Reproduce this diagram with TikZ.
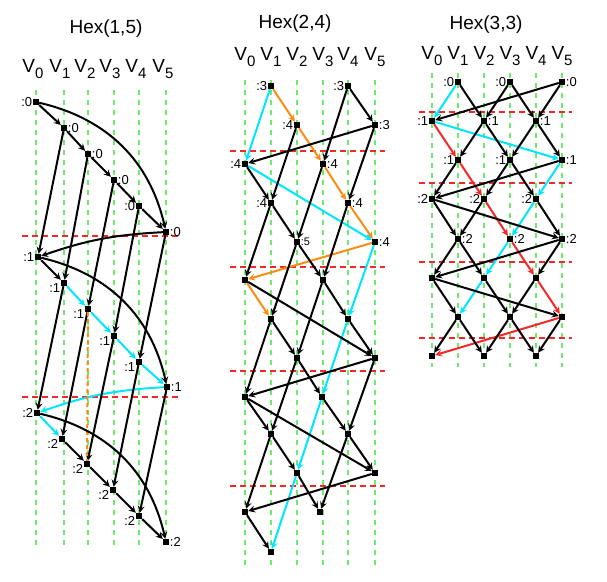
\documentclass[tikz,border=0pt]{standalone}
\usepackage{fontspec}
\setmainfont{Liberation Sans}
\usetikzlibrary{arrows}

\definecolor{gridgreen}{RGB}{110,235,110}
\definecolor{cutred}{RGB}{240,40,40}
\definecolor{pathcyan}{RGB}{0,230,250}
\definecolor{pathorange}{RGB}{250,140,20}
\definecolor{pathred}{RGB}{245,40,40}

\newcommand{\vcol}[1]{V\raisebox{-6pt}{\fontsize{15}{15}\selectfont #1}}

\begin{document}
\begin{tikzpicture}[
    x=1pt, y=-1pt,
    vtx/.style={fill=black, inner sep=0pt, minimum size=6pt},
    lbl/.style={font=\fontsize{13}{13}\selectfont, inner sep=0.5pt},
    title/.style={font=\fontsize{19}{21}\selectfont},
    head/.style={font=\fontsize{19}{21}\selectfont, inner sep=0pt},
    grid/.style={gridgreen, line width=2pt, dash pattern=on 5pt off 5pt},
    cut/.style={cutred, line width=1.6pt, dash pattern=on 6pt off 4pt},
    arrow/.style={->, >=stealth, line width=2pt},
    cyanarrow/.style={arrow, pathcyan},
    orangearrow/.style={arrow, pathorange},
    redarrow/.style={arrow, pathred},
]
\useasboundingbox (0,0) rectangle (607,581);

% Grid lines
\foreach \x in {36,64,88,114,139,166} \draw[grid] (\x,90) -- (\x,548);
\foreach \x in {245,271,297,323,348,375} \draw[grid] (\x,80) -- (\x,565);
\foreach \x in {432,458,484,510,536,562} \draw[grid] (\x,73) -- (\x,367);

% Cuts
\draw[cut] (22,236) -- (180,236);
\draw[cut] (22,397) -- (180,397);
\draw[cut] (230,151) -- (385,151);
\draw[cut] (230,267) -- (385,267);
\draw[cut] (230,371) -- (385,371);
\draw[cut] (230,486) -- (385,486);
\draw[cut] (419,112) -- (572,112);
\draw[cut] (419,183) -- (572,183);
\draw[cut] (419,262) -- (572,262);
\draw[cut] (419,338) -- (572,338);

%%%%%%%%%% Hex(1,5)
\node[title] (t1) at (106,29) {Hex(1,5)};
\node[head] (h10) at (33,69) {\vcol{0}};
\node[head] (h11) at (60,69) {\vcol{1}};
\node[head] (h12) at (85,69) {\vcol{2}};
\node[head] (h13) at (110,69) {\vcol{3}};
\node[head] (h14) at (136,69) {\vcol{4}};
\node[head] (h15) at (163,69) {\vcol{5}};

% Level 0
\node[vtx, label={[lbl]left:{:0}}] (a00) at (36,102) {};
\node[vtx, label={[lbl]right:{:0}}] (a01) at (64,128) {};
\node[vtx, label={[lbl]right:{:0}}] (a02) at (88,154) {};
\node[vtx, label={[lbl]right:{:0}}] (a03) at (114,180) {};
\node[vtx, label={[lbl]left:{:0}}] (a04) at (139,206) {};
\node[vtx, label={[lbl]right:{:0}}] (a05) at (166,232) {};

% Level 1
\node[vtx, label={[lbl]left:{:1}}] (a10) at (38,257) {};
\node[vtx, label={[lbl,yshift=-5pt]left:{:1}}] (a11) at (64,283) {};
\node[vtx, label={[lbl,yshift=-5pt]left:{:1}}] (a12) at (88,309) {};
\node[vtx, label={[lbl,yshift=-5pt]left:{:1}}] (a13) at (114,336) {};
\node[vtx, label={[lbl,yshift=-5pt]left:{:1}}] (a14) at (139,362) {};
\node[vtx, label={[lbl]right:{:1}}] (a15) at (167,387) {};

% Level 2
\node[vtx, label={[lbl]left:{:2}}] (a20) at (37,413) {};
\node[vtx, label={[lbl,yshift=-5pt]left:{:2}}] (a21) at (62,439) {};
\node[vtx, label={[lbl,yshift=-5pt]left:{:2}}] (a22) at (87,464) {};
\node[vtx, label={[lbl,yshift=-5pt]left:{:2}}] (a23) at (113,490) {};
\node[vtx, label={[lbl,yshift=-5pt]left:{:2}}] (a24) at (139,516) {};
\node[vtx, label={[lbl]right:{:2}}] (a25) at (166,542) {};

% Arrows
\draw[arrow] (a00) -- (a01);
\draw[arrow] (a01) -- (a02);
\draw[arrow] (a02) -- (a03);
\draw[arrow] (a03) -- (a04);
\draw[arrow] (a04) -- (a05);
\draw[arrow] (a00) to[bend left=32] (a05);
\draw[arrow] (a05) to[bend right=8] (a10);
\draw[arrow] (a01) -- (a10);
\draw[arrow] (a02) -- (a11);
\draw[arrow] (a03) -- (a12);
\draw[arrow] (a04) -- (a13);
\draw[arrow] (a05) -- (a14);
\draw[arrow] (a10) -- (a11);
\draw[cyanarrow] (a11) -- (a12);
\draw[cyanarrow] (a12) -- (a13);
\draw[cyanarrow] (a13) -- (a14);
\draw[cyanarrow] (a14) -- (a15);
\draw[arrow] (a10) to[bend left=32] (a15);
\draw[cyanarrow] (a15) to[bend right=8] (a20);
\draw[arrow] (a11) -- (a20);
\draw[arrow] (a12) -- (a21);
\draw[arrow] (a13) -- (a22);
\draw[arrow] (a14) -- (a23);
\draw[arrow] (a15) -- (a24);
\draw[pathorange, line width=2pt, dash pattern=on 4pt off 3pt] (a12) -- (a22);
\draw[cyanarrow] (a20) -- (a21);
\draw[arrow] (a21) -- (a22);
\draw[arrow] (a22) -- (a23);
\draw[arrow] (a23) -- (a24);
\draw[arrow] (a24) -- (a25);
\draw[arrow] (a20) to[bend left=32] (a25);

%%%%%%%%%% Hex(2,4)
\node[title] (t2) at (295,24) {Hex(2,4)};
\node[head] (h20) at (245,57) {\vcol{0}};
\node[head] (h21) at (271,57) {\vcol{1}};
\node[head] (h22) at (297,57) {\vcol{2}};
\node[head] (h23) at (323,57) {\vcol{3}};
\node[head] (h24) at (348,57) {\vcol{4}};
\node[head] (h25) at (375,57) {\vcol{5}};

\node[vtx, label={[lbl]left:{:3}}] (b0-1) at (271,86) {};
\node[vtx, label={[lbl]left:{:3}}] (b0-4) at (348,86) {};
\node[vtx, label={[lbl]left:{:4}}] (b1-2) at (297,125) {};
\node[vtx, label={[lbl]right:{:3}}] (b1-5) at (375,125) {};
\node[vtx, label={[lbl]left:{:4}}] (b2-0) at (245,164) {};
\node[vtx, label={[lbl]right:{:4}}] (b2-3) at (323,164) {};
\node[vtx, label={[lbl]left:{:4}}] (b3-1) at (271,203) {};
\node[vtx, label={[lbl]right:{:4}}] (b3-4) at (348,203) {};
\node[vtx, label={[lbl,font=\fontsize{11}{11}\selectfont]right:{:5}}] (b4-2) at (297,242) {};
\node[vtx, label={[lbl]right:{:4}}] (b4-5) at (375,242) {};
\node[vtx] (b5-0) at (245,280) {};
\node[vtx] (b5-3) at (323,280) {};
\node[vtx] (b6-1) at (271,319) {};
\node[vtx] (b6-4) at (348,319) {};
\node[vtx] (b7-2) at (297,358) {};
\node[vtx] (b7-5) at (375,358) {};
\node[vtx] (b8-0) at (245,397) {};
\node[vtx] (b8-3) at (322,397) {};
\node[vtx] (b9-1) at (271,434) {};
\node[vtx] (b9-4) at (348,434) {};
\node[vtx] (b10-2) at (297,473) {};
\node[vtx] (b10-5) at (375,473) {};
\node[vtx] (b11-0) at (245,512) {};
\node[vtx] (b11-3) at (320,512) {};
\node[vtx] (b12-1) at (271,552) {};

% Arrows
\draw[orangearrow] (b0-1) -- (b1-2);
\draw[orangearrow] (b1-2) -- (b2-3);
\draw[orangearrow] (b2-3) -- (b3-4);
\draw[orangearrow] (b3-4) -- (b4-5);
\draw[orangearrow] (b4-5) -- (b5-0);
\draw[orangearrow] (b5-0) -- (b6-1);
\draw[cyanarrow] (b0-1) -- (b2-0);
\draw[cyanarrow] (b2-0) -- (b4-5);
\draw[cyanarrow] (b4-5) -- (b6-4);
\draw[cyanarrow] (b6-4) -- (b8-3);
\draw[cyanarrow] (b8-3) -- (b10-2);
\draw[cyanarrow] (b10-2) -- (b12-1);
\draw[arrow] (b0-4) -- (b1-5);
\draw[arrow] (b0-4) -- (b2-3);
\draw[arrow] (b1-2) -- (b3-1);
\draw[arrow] (b1-5) -- (b2-0);
\draw[arrow] (b1-5) -- (b3-4);
\draw[arrow] (b2-0) -- (b3-1);
\draw[arrow] (b2-3) -- (b4-2);
\draw[arrow] (b3-1) -- (b4-2);
\draw[arrow] (b3-1) -- (b5-0);
\draw[arrow] (b3-4) -- (b5-3);
\draw[arrow] (b4-2) -- (b5-3);
\draw[arrow] (b4-2) -- (b6-1);
\draw[arrow] (b5-0) -- (b7-5);
\draw[arrow] (b5-3) -- (b6-4);
\draw[arrow] (b5-3) -- (b7-2);
\draw[arrow] (b6-1) -- (b7-2);
\draw[arrow] (b6-1) -- (b8-0);
\draw[arrow] (b6-4) -- (b7-5);
\draw[arrow] (b7-2) -- (b8-3);
\draw[arrow] (b7-2) -- (b9-1);
\draw[arrow] (b7-5) -- (b8-0);
\draw[arrow] (b7-5) -- (b9-4);
\draw[arrow] (b8-0) -- (b9-1);
\draw[arrow] (b8-0) -- (b10-5);
\draw[arrow] (b8-3) -- (b9-4);
\draw[arrow] (b9-1) -- (b10-2);
\draw[arrow] (b9-1) -- (b11-0);
\draw[arrow] (b9-4) -- (b10-5);
\draw[arrow] (b9-4) -- (b11-3);
\draw[arrow] (b10-2) -- (b11-3);
\draw[arrow] (b10-5) -- (b11-0);
\draw[arrow] (b11-0) -- (b12-1);

%%%%%%%%%% Hex(3,3)
\node[title] (t3) at (486,25) {Hex(3,3)};
\node[head] (h30) at (432,56) {\vcol{0}};
\node[head] (h31) at (458,56) {\vcol{1}};
\node[head] (h32) at (484,56) {\vcol{2}};
\node[head] (h33) at (510,56) {\vcol{3}};
\node[head] (h34) at (536,56) {\vcol{4}};
\node[head] (h35) at (562,56) {\vcol{5}};

\node[vtx, label={[lbl]left:{:0}}] (c0-1) at (458,82) {};
\node[vtx, label={[lbl]left:{:0}}] (c0-3) at (510,82) {};
\node[vtx, label={[lbl]right:{:0}}] (c0-5) at (562,82) {};
\node[vtx, label={[lbl]left:{:1}}] (c1-0) at (432,121) {};
\node[vtx, label={[lbl]right:{:1}}] (c1-2) at (484,121) {};
\node[vtx, label={[lbl]right:{:1}}] (c1-4) at (536,121) {};
\node[vtx, label={[lbl]left:{:1}}] (c2-1) at (458,160) {};
\node[vtx, label={[lbl]left:{:1}}] (c2-3) at (510,160) {};
\node[vtx, label={[lbl]right:{:1}}] (c2-5) at (562,160) {};
\node[vtx, label={[lbl]left:{:2}}] (c3-0) at (432,199) {};
\node[vtx, label={[lbl]left:{:2}}] (c3-2) at (484,199) {};
\node[vtx, label={[lbl]left:{:2}}] (c3-4) at (536,199) {};
\node[vtx, label={[lbl]right:{:2}}] (c4-1) at (458,239) {};
\node[vtx, label={[lbl]right:{:2}}] (c4-3) at (510,239) {};
\node[vtx, label={[lbl]right:{:2}}] (c4-5) at (562,239) {};
\node[vtx] (c5-0) at (432,278) {};
\node[vtx] (c5-2) at (484,278) {};
\node[vtx] (c5-4) at (536,278) {};
\node[vtx] (c6-1) at (458,317) {};
\node[vtx] (c6-3) at (510,317) {};
\node[vtx] (c6-5) at (562,317) {};
\node[vtx] (c7-0) at (432,356) {};
\node[vtx] (c7-2) at (484,356) {};
\node[vtx] (c7-4) at (536,356) {};

% Arrows
\draw[cyanarrow] (c0-1) -- (c1-0);
\draw[cyanarrow] (c1-0) -- (c2-5);
\draw[cyanarrow] (c2-5) -- (c3-4);
\draw[cyanarrow] (c3-4) -- (c4-3);
\draw[cyanarrow] (c4-3) -- (c5-2);
\draw[cyanarrow] (c5-2) -- (c6-1);
\draw[redarrow] (c1-0) -- (c2-1);
\draw[redarrow] (c2-1) -- (c3-2);
\draw[redarrow] (c3-2) -- (c4-3);
\draw[redarrow] (c4-3) -- (c5-4);
\draw[redarrow] (c5-4) -- (c6-5);
\draw[redarrow] (c6-5) -- (c7-0);
\draw[arrow] (c0-1) -- (c1-2);
\draw[arrow] (c0-3) -- (c1-2);
\draw[arrow] (c0-3) -- (c1-4);
\draw[arrow] (c0-5) -- (c1-4);
\draw[arrow] (c0-5) -- (c1-0);
\draw[arrow] (c1-2) -- (c2-1);
\draw[arrow] (c1-2) -- (c2-3);
\draw[arrow] (c1-4) -- (c2-3);
\draw[arrow] (c1-4) -- (c2-5);
\draw[arrow] (c2-1) -- (c3-0);
\draw[arrow] (c2-3) -- (c3-2);
\draw[arrow] (c2-3) -- (c3-4);
\draw[arrow] (c2-5) -- (c3-0);
\draw[arrow] (c3-0) -- (c4-1);
\draw[arrow] (c3-0) -- (c4-5);
\draw[arrow] (c3-2) -- (c4-1);
\draw[arrow] (c3-4) -- (c4-5);
\draw[arrow] (c4-1) -- (c5-0);
\draw[arrow] (c4-1) -- (c5-2);
\draw[arrow] (c4-5) -- (c5-4);
\draw[arrow] (c4-5) -- (c5-0);
\draw[arrow] (c5-0) -- (c6-1);
\draw[arrow] (c5-0) -- (c6-5);
\draw[arrow] (c5-2) -- (c6-3);
\draw[arrow] (c5-4) -- (c6-3);
\draw[arrow] (c6-1) -- (c7-0);
\draw[arrow] (c6-1) -- (c7-2);
\draw[arrow] (c6-3) -- (c7-2);
\draw[arrow] (c6-3) -- (c7-4);
\draw[arrow] (c6-5) -- (c7-4);

\end{tikzpicture}
\end{document}
